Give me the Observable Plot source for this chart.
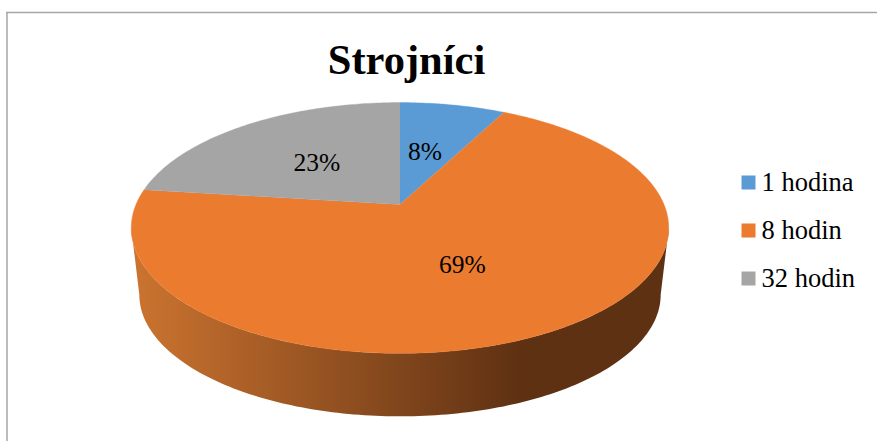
<!DOCTYPE html>
<html>
<head>
<meta charset="utf-8">
<script src="https://cdn.jsdelivr.net/npm/d3@7"></script>
<script src="https://cdn.jsdelivr.net/npm/@observablehq/plot@0.6"></script>
<style>
html,body{margin:0;padding:0;background:#fff;overflow:hidden}
svg{display:block}
</style>
</head>
<body>
<div id="chart"></div>
<script>
const title = "Strojníci";
const categories = ["1 hodina", "8 hodin", "32 hodin"];
const values = [7.6, 69.4, 23];
const colors = ["#5b9bd5", "#ea7b2f", "#a5a5a5"];

// view geometry of the tilted disc
const W = 877, H = 441;
const cx = 399.5, cy = 204, A = 264, B = 121, k = 0.187;
const depth = 67.5, bottomScale = 0.97;
const serif = "'Liberation Serif','Times New Roman',serif";

const project = (theta, r = 1, s = 1, d = 0) => {
  const X = r * Math.sin(theta), Y = r * Math.cos(theta), w = 1 + k * Y;
  return {x: cx + s * A * X / w, y: cy + d - s * B * Y / w};
};
const sweep = (a0, a1, s, d) => {
  const n = Math.max(2, Math.ceil(Math.abs(a1 - a0) / (Math.PI / 180)));
  return d3.range(n + 1).map(i => project(a0 + (a1 - a0) * i / n, 1, s, d));
};

const total = d3.sum(values);
const arcs = d3.pie().sort(null).value(d => d)(values);

const slices = arcs.flatMap((a, i) => [
  {x: cx, y: cy, category: categories[i]},
  ...sweep(a.startAngle, a.endAngle, 1, 0).map(p => ({...p, category: categories[i]}))
]);

// silhouette of the disc's edge: tangent points of the projected circle
const tangent = Math.acos(-k);
const rimFront = sweep(tangent, 2 * Math.PI - tangent, 1, 0);
const rimBack = sweep(2 * Math.PI - tangent, tangent, bottomScale, depth);
const side = [...rimFront, ...rimBack];

const labelNudge = [0, 3, 0];
const labels = arcs.map((a, i) => {
  const p = project((a.startAngle + a.endAngle) / 2, 0.49);
  return {x: p.x - 3, y: p.y + labelNudge[i], text: `${Math.round(values[i] / total * 100)}%`};
});

const legend = categories.map((c, i) => ({category: c, y: 182 + i * 48}));

const gradient = () => {
  const svg = d3.create("svg:defs");
  const g = svg.append("linearGradient").attr("id", "edge");
  [[0, "#cc7430"], [0.72, "#5f3113"], [1, "#5f3113"]].forEach(([o, c]) =>
    g.append("stop").attr("offset", o).attr("stop-color", c));
  return svg.node();
};

const chart = Plot.plot({
  width: W, height: H, margin: 0,
  x: {domain: [0, W], range: [0, W], axis: null},
  y: {domain: [0, H], range: [0, H], axis: null},
  color: {type: "ordinal", domain: categories, range: colors},
  style: {fontFamily: serif, background: "#fff", color: "#000"},
  marks: [
    gradient,
    Plot.ruleX([6.5], {y1: 12, y2: H, stroke: "#a6a6a6", strokeWidth: 1.5}),
    Plot.ruleY([12], {x1: 6, x2: W, stroke: "#a6a6a6", strokeWidth: 1.5}),
    Plot.line(side, {x: "x", y: "y", fill: "url(#edge)", stroke: "none"}),
    Plot.line(slices, {x: "x", y: "y", z: "category", fill: "category", stroke: "category", strokeWidth: 0.4}),
    Plot.text(labels, {x: "x", y: "y", text: "text", fontSize: 25.5, fill: "#000"}),
    Plot.text([title], {x: () => 406, y: () => 60, text: d => d, fontSize: 42.5, fontWeight: "bold", fill: "#000"}),
    Plot.dot(legend, {x: () => 748, y: "y", symbol: "square", r: 7.9, fill: "category", stroke: "none"}),
    Plot.text(legend, {x: () => 761, y: "y", text: "category", textAnchor: "start", fontSize: 26.5, fill: "#000"})
  ]
});
document.getElementById("chart").append(chart);
</script>
</body>
</html>
